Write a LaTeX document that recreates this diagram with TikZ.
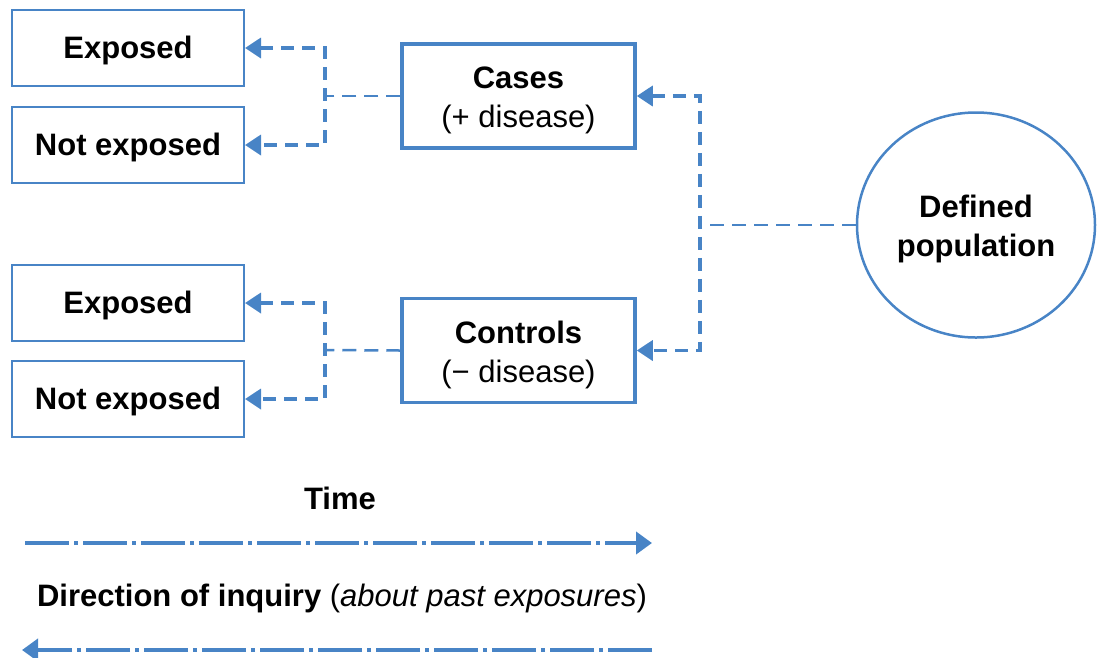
\documentclass[tikz,border=0pt]{standalone}
\usepackage{fontspec}
\setmainfont{Liberation Sans}
\usetikzlibrary{arrows.meta,shapes.geometric}
\definecolor{bl}{RGB}{72,132,198}
\newcommand\myhs[1]{\rule{0pt}{#1}}
\begin{document}
\begin{tikzpicture}[x=1pt,y=-1pt,
  font=\fontsize{31}{39}\selectfont,
  lbox/.style={draw=bl,line width=2pt,minimum width=232pt,minimum height=76pt,inner sep=0pt,font=\fontsize{31}{39}\selectfont\bfseries},
  cbox/.style={draw=bl,line width=3.5pt,minimum width=233pt,minimum height=104pt,inner sep=0pt,align=center},
  popnode/.style={ellipse,draw=bl,line width=2.5pt,minimum width=238pt,minimum height=225pt,inner sep=0pt,align=center,font=\fontsize{31}{39}\selectfont\bfseries},
  thickdash/.style={draw=bl,line width=3.5pt,dash pattern=on 13pt off 8pt},
  thindash/.style={draw=bl,line width=2.5pt,dash pattern=on 14pt off 8pt},
  dashdotline/.style={draw=bl,line width=4pt,dash pattern=on 44pt off 5pt on 4pt off 5pt},
  lbl/.style={inner sep=0pt}
]
\useasboundingbox (0,0) rectangle (1097,657);

% left boxes
\node[lbox] (e1) at (128,48) {\myhs{27pt}Exposed};
\node[lbox] (n1) at (128,145) {\myhs{27pt}Not exposed};
\node[lbox] (e2) at (128,303) {\myhs{27pt}Exposed};
\node[lbox] (n2) at (128,399) {\myhs{27pt}Not exposed};

% middle boxes
\node[cbox] (cases) at (518.5,96) {\myhs{31pt}\textbf{Cases}\\(+ disease)};
\node[cbox] (controls) at (518.5,350.5) {\myhs{31pt}\textbf{Controls}\\(− disease)};

% population
\node[popnode] (pop) at (976,225) {\myhs{31pt}Defined\\population};

% junction coordinates
\coordinate (j1) at (325,96);
\coordinate (j2) at (325,350);
\coordinate (j3) at (700,225);

% cases -> exposure boxes
\draw[thindash] (cases.west) -- (j1);
\draw[thickdash,{Triangle[length=16pt,width=20pt]}-{Triangle[length=16pt,width=20pt]}]
  (e1.east) -- (j1 |- e1.east) -- (j1 |- n1.east) -- (n1.east);

% controls -> exposure boxes
\draw[thindash] (controls.west) -- (j2);
\draw[thickdash,{Triangle[length=16pt,width=20pt]}-{Triangle[length=16pt,width=20pt]}]
  (e2.east) -- (j2 |- e2.east) -- (j2 |- n2.east) -- (n2.east);

% population -> cases/controls
\draw[thindash] (pop.west) -- (j3);
\draw[thickdash,{Triangle[length=16pt,width=20pt]}-{Triangle[length=16pt,width=20pt]}]
  (cases.east) -- (j3 |- cases.east) -- (j3 |- controls.east) -- (controls.east);

% time
\node[lbl,font=\fontsize{31}{39}\selectfont\bfseries] (time) at (340,498) {Time};
\coordinate (ta) at (25,543);
\coordinate (tb) at (652,543);
\draw[dashdotline,-{Triangle[length=16pt,width=22pt]}] (ta) -- (tb);

% direction of inquiry
\node[lbl] (dir) at (342,598) {\textbf{Direction of inquiry} (\textit{about past exposures})};
\coordinate (da) at (652,650);
\coordinate (db) at (22,650);
\draw[dashdotline,-{Triangle[length=16pt,width=22pt]}] (da) -- (db);
\end{tikzpicture}
\end{document}
